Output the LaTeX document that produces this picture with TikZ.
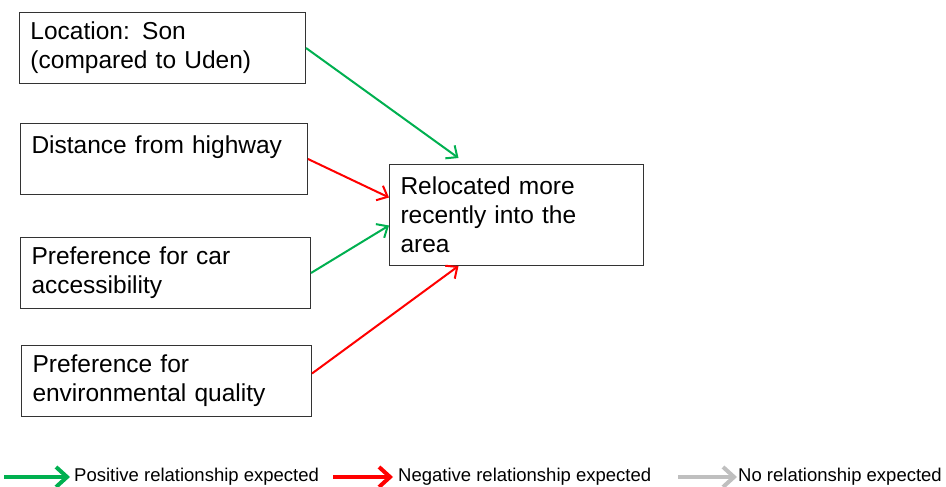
\documentclass[tikz,border=0pt]{standalone}
\usepackage{fontspec}
\setmainfont{Liberation Sans}
\usetikzlibrary{arrows.meta}

\definecolor{posgreen}{RGB}{0,176,80}
\definecolor{negred}{RGB}{255,0,0}
\definecolor{nogray}{RGB}{191,191,191}

\tikzset{
  factor/.style={draw=black!80, line width=1pt, anchor=north west, text width=#1,%
    minimum height=71pt, align=left, inner xsep=11pt, inner ysep=0pt,%
    font=\fontsize{24.5}{29}\selectfont},
  link/.style={draw=#1, line width=2pt, -{Straight Barb[length=9pt,width=16pt]}},
  keyarrow/.style={draw=#1, line width=4pt, -{Straight Barb[length=11pt,width=20pt]}},
  keytext/.style={anchor=west, inner sep=0pt, font=\fontsize{18.5}{22}\selectfont},
}

\begin{document}
\begin{tikzpicture}[x=1pt,y=1pt]
        \useasboundingbox (0,0) rectangle (946,487);

        % factors
        \node[factor=264pt] (loc) at (19,475) {Location: Son\\(compared to Uden)};
        \node[factor=265pt] (dist) at (20,364) {Distance from highway\\\mbox{}};
        \node[factor=268pt] (car) at (20,250) {Preference for car\\accessibility};
        \node[factor=268pt] (env) at (21,142) {Preference for\\environmental quality};

        % outcome
        \node[factor=232pt, minimum height=101pt] (reloc) at (389,323)
            {Relocated more\\recently into the\\area};

        % expected relationships
        \draw[link=posgreen] (loc.east) -- ([xshift=-58pt,yshift=6pt]reloc.north);
        \draw[link=negred] (dist.east) -- ([yshift=17.5pt]reloc.west);
        \draw[link=posgreen] (car.east) -- ([yshift=-10.5pt]reloc.west);
        \draw[link=negred] ([yshift=7.5pt]env.east) -- ([xshift=-58pt]reloc.south);

        % legend
        \node[keytext] (kpos) at (74,10) {Positive relationship expected};
        \node[keytext] (kneg) at (398,10) {Negative relationship expected};
        \node[keytext] (knone) at (738,10) {No relationship expected};
        \coordinate (apos) at (4,10);
        \coordinate (aneg) at (333,10);
        \coordinate (anone) at (678,10);
        \draw[keyarrow=posgreen] (apos) -- ([xshift=-4pt]kpos.west);
        \draw[keyarrow=negred] (aneg) -- ([xshift=-5pt]kneg.west);
        \draw[keyarrow=nogray] (anone) -- ([xshift=-1pt]knone.west);
\end{tikzpicture}
\end{document}
